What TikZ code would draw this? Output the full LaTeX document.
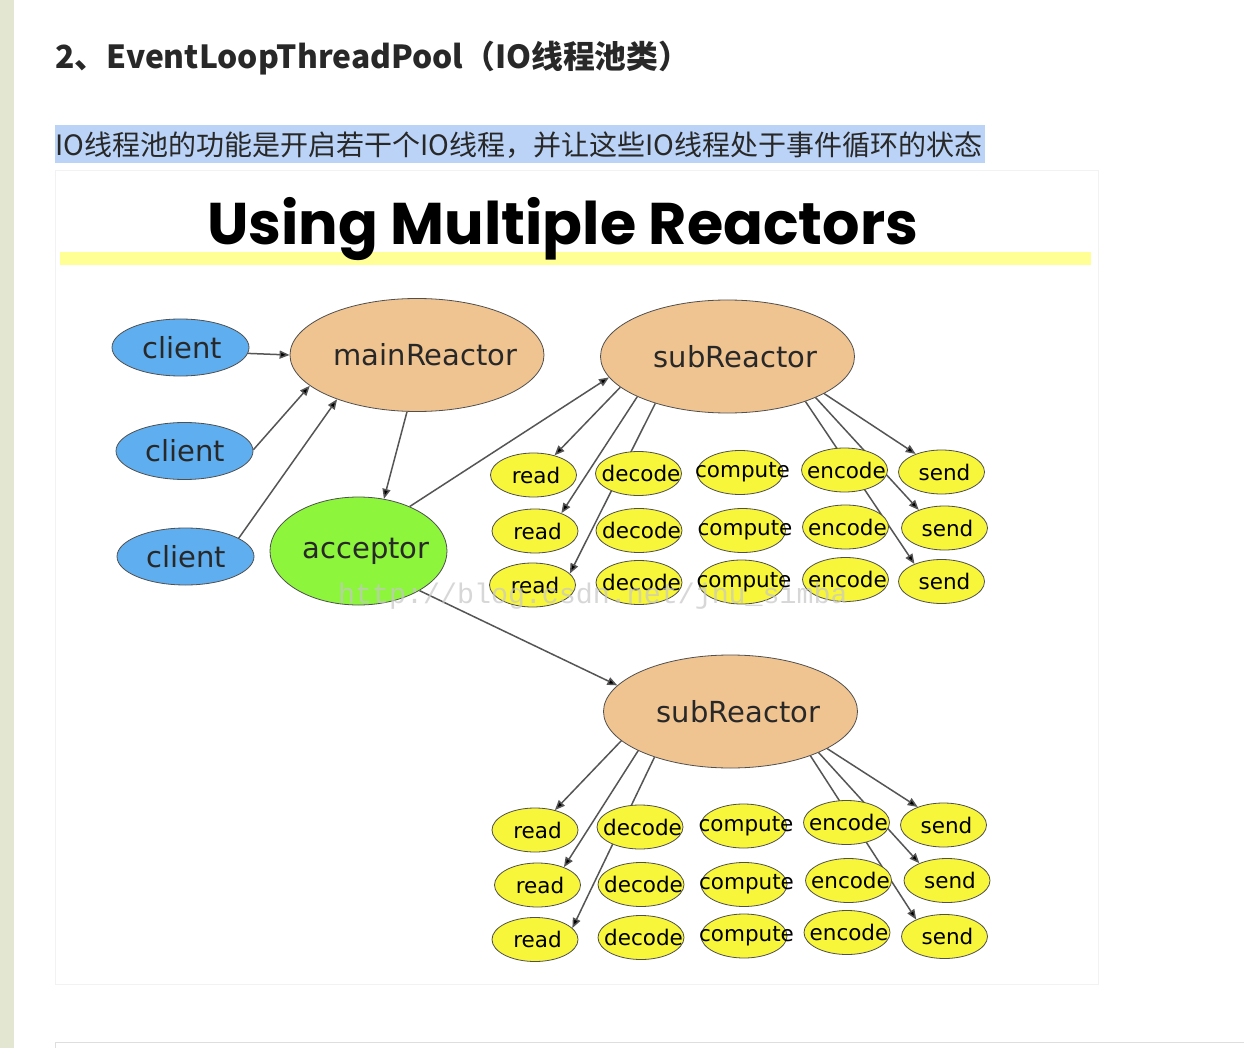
\documentclass[tikz,border=0pt]{standalone}
\usepackage{fontspec}
\setmainfont{DejaVu Sans}
\newfontfamily\cjk{Noto Sans CJK SC}
\newfontfamily\pop{Poppins}
\newfontfamily\wmfont{Liberation Mono}
\usetikzlibrary{shapes.geometric,arrows.meta}
\definecolor{clientc}{RGB}{95,175,240}
\definecolor{tanc}{RGB}{240,196,145}
\definecolor{greenc}{RGB}{140,245,60}
\definecolor{yelc}{RGB}{248,246,58}
\definecolor{outl}{RGB}{80,80,80}
\definecolor{edgec}{RGB}{85,85,85}
\definecolor{hlc}{RGB}{186,211,247}
\definecolor{stripc}{RGB}{227,230,209}
\definecolor{barc}{RGB}{255,255,150}
\definecolor{txtc}{RGB}{40,40,40}
\newcommand{\zb}[2][0pt]{\makebox[0pt]{\hspace*{#1}#2}}
\pgfdeclarelayer{bg}
\pgfdeclarelayer{edges}
\pgfsetlayers{bg,edges,main}
\tikzset{
  bignode/.style={ellipse, draw=outl, line width=0.8pt, inner sep=0pt, text=txtc,
    font=\fontsize{29}{29}\selectfont},
  clientn/.style={bignode, fill=clientc, minimum width=137pt, minimum height=57pt},
  reactorn/.style={bignode, fill=tanc, minimum width=254pt, minimum height=113pt},
  accn/.style={bignode, fill=greenc, minimum width=177pt, minimum height=108pt},
  smalln/.style={ellipse, draw=outl, line width=0.8pt, fill=yelc, inner sep=0pt, text=black,
    minimum width=86pt, minimum height=44pt, font=\fontsize{21.5}{21.5}\selectfont},
  conn/.style={draw=edgec, line width=1.5pt, -{Triangle[length=10pt,width=8pt,fill=black]}}
}
\begin{document}
\begin{tikzpicture}[x=1pt,y=-1pt]
\useasboundingbox (0,0) rectangle (1244,1048);
\begin{pgfonlayer}{bg}
  \fill[white] (0,0) rectangle (1244,1048);
  \fill[stripc] (0,0) rectangle (14,1048);
  \fill[hlc] (55,125) rectangle (985,163);
  \draw[black!5, line width=0.8pt] (55,170) rectangle (1098,984);
  \draw[black!13, line width=1pt] (55.5,1042) -- (1250,1042);
  \draw[black!13, line width=1pt] (55.5,1042) -- (55.5,1050);
  \fill[barc] (60,252) rectangle (1091,265);
\end{pgfonlayer}

% page texts
\node[anchor=base west, inner sep=0pt, text=txtc, font=\cjk\bfseries\fontsize{31.8}{32}\selectfont] (head) at (55,69) {2、EventLoopThreadPool（IO线程池类）};
\node[anchor=base west, inner sep=0pt, text=txtc, font=\cjk\fontsize{28}{28}\selectfont] (intro) at (55,156) {IO线程池的功能是开启若干个IO线程，并让这些IO线程处于事件循环的状态};
\node[anchor=base west, inner sep=0pt, text=black] (title) at (207,245) {\resizebox{711pt}{!}{\pop\bfseries\fontsize{56}{56}\selectfont Using Multiple Reactors}};

% main nodes
\node[clientn] (c1) at (180.5,347.5) {\zb[4pt]{client}};
\node[clientn] (c2) at (184.5,451) {\zb[2pt]{client}};
\node[clientn] (c3) at (185.5,556.5) {\zb[2pt]{client}};
\node[reactorn] (main) at (417,355) {\zb[17pt]{mainReactor}};
\node[accn] (acc) at (358.5,551) {\zb[15pt]{acceptor}};
\node[reactorn] (sub1) at (727.5,356.5) {\zb[16pt]{subReactor}};
\node[reactorn] (sub2) at (730.5,711.5) {\zb[16pt]{subReactor}};

% top group
\node[smalln] (r11) at (533.5,475) {\zb[5pt]{read}};
\node[smalln] (d11) at (638.5,473.5) {\zb[5pt]{decode}};
\node[smalln] (p11) at (740,472.5) {\zb[5pt]{compute}};
\node[smalln] (e11) at (844.5,470) {\zb[4pt]{encode}};
\node[smalln] (s11) at (941.5,472) {\zb[6pt]{send}};
\node[smalln] (r12) at (535,531) {\zb[5pt]{read}};
\node[smalln] (d12) at (639,530.5) {\zb[5pt]{decode}};
\node[smalln] (p12) at (742.5,530.5) {\zb[5pt]{compute}};
\node[smalln] (e12) at (845.5,527) {\zb[4pt]{encode}};
\node[smalln] (s12) at (944.5,528) {\zb[6pt]{send}};
\node[smalln] (r13) at (532.5,585) {\zb[5pt]{read}};
\node[smalln] (d13) at (639,582.5) {\zb[5pt]{decode}};
\node[smalln] (p13) at (741.5,582) {\zb[5pt]{compute}};
\node[smalln] (e13) at (845.5,579.5) {\zb[4pt]{encode}};
\node[smalln] (s13) at (941.5,581.5) {\zb[6pt]{send}};

% bottom group
\node[smalln] (r21) at (535,830) {\zb[5pt]{read}};
\node[smalln] (d21) at (640,827) {\zb[5pt]{decode}};
\node[smalln] (p21) at (743.5,826) {\zb[5pt]{compute}};
\node[smalln] (e21) at (846.5,822.5) {\zb[4pt]{encode}};
\node[smalln] (s21) at (943.5,825) {\zb[6pt]{send}};
\node[smalln] (r22) at (537.5,885) {\zb[5pt]{read}};
\node[smalln] (d22) at (641,884.5) {\zb[5pt]{decode}};
\node[smalln] (p22) at (744,884.5) {\zb[5pt]{compute}};
\node[smalln] (e22) at (848.5,880.5) {\zb[4pt]{encode}};
\node[smalln] (s22) at (947,880.5) {\zb[6pt]{send}};
\node[smalln] (r23) at (535,939.5) {\zb[5pt]{read}};
\node[smalln] (d23) at (641,937.5) {\zb[5pt]{decode}};
\node[smalln] (p23) at (744,936) {\zb[5pt]{compute}};
\node[smalln] (e23) at (847,932.5) {\zb[4pt]{encode}};
\node[smalln] (s23) at (944.5,936.5) {\zb[6pt]{send}};

\begin{pgfonlayer}{edges}
  \draw[conn] (c1.-5) -- (main.180);
  \draw[conn] (c2.1) -- (main.196.6);
  \draw[conn] (c3.19) -- (main.209.7);
  \draw[conn] (main.260.2) -- (acc.64.7);
  \draw[conn] (acc.41.4) -- (sub1.190);
  \draw[conn] (acc.327.6) -- (sub2.167.2);
  \draw[conn] (sub1.196.6) -- (r11.43.2);
  \draw[conn] (sub1.204.5) -- (r12.34.9);
  \draw[conn] (sub1.213.1) -- (r13.17);
  \draw[conn] (sub1.339.9) -- (s11.145);
  \draw[conn] (sub1.335.1) -- (s12.145.4);
  \draw[conn] (sub1.330.2) -- (s13.147.6);
  \draw[conn] (sub2.195.6) -- (r21.45);
  \draw[conn] (sub2.203.5) -- (r22.34.9);
  \draw[conn] (sub2.211.5) -- (r23.17.2);
  \draw[conn] (sub2.339.5) -- (s21.145);
  \draw[conn] (sub2.335.7) -- (s22.148.3);
  \draw[conn] (sub2.331.3) -- (s23.149);
\end{pgfonlayer}

% watermark
\node[anchor=base west, inner sep=0pt, text=black!22, opacity=0.7, font=\wmfont\fontsize{28.3}{28}\selectfont] (wm) at (338,603) {http://blog.csdn.net/jnu\_simba};
\end{tikzpicture}
\end{document}
